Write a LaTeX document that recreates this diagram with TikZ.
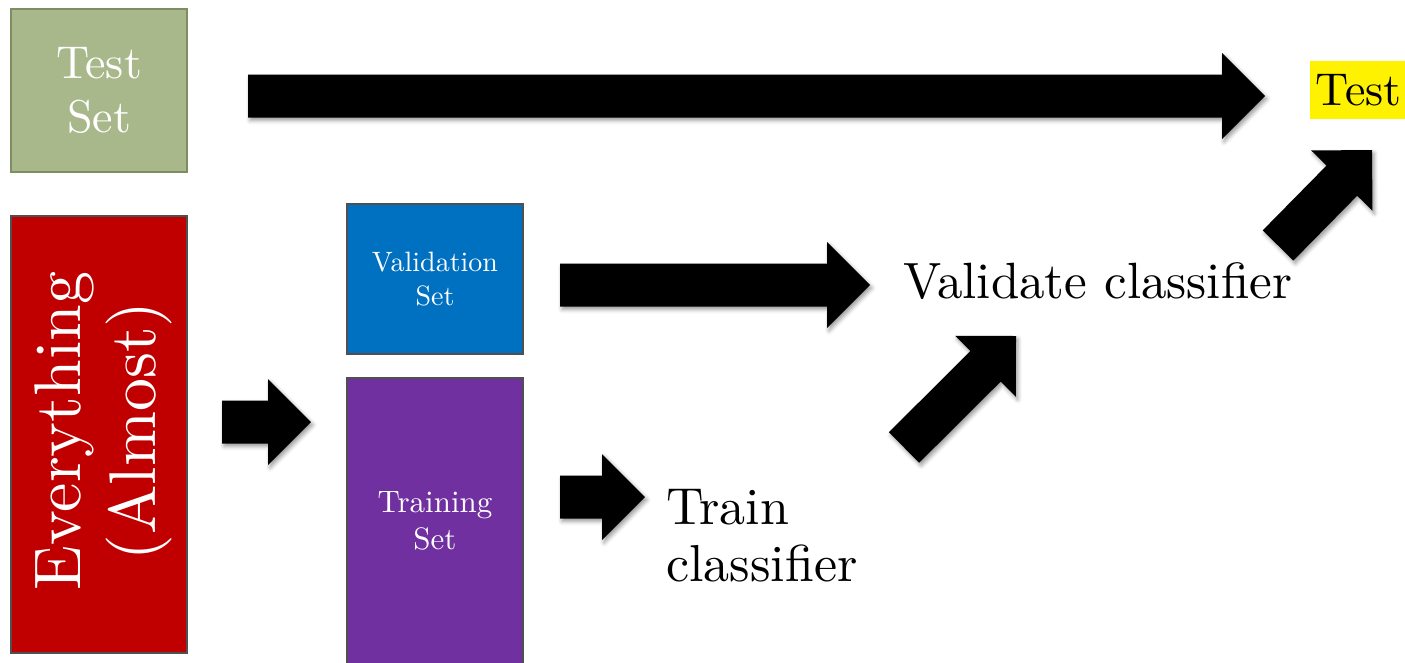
\documentclass[tikz,border=0pt]{standalone}
\usepackage{fontspec}
\setmainfont{lmroman10-regular}[Extension=.otf]
\usetikzlibrary{calc,shadows.blur}
\definecolor{testgreen}{HTML}{A9B88B}
\definecolor{testedge}{HTML}{7E8D62}
\definecolor{allred}{HTML}{C00000}
\definecolor{valblue}{HTML}{0070C0}
\definecolor{trainpurple}{HTML}{7030A0}
\definecolor{boxedge}{HTML}{505050}
\newcommand\blockarrow[2]{%
  \path ($(#2)!43pt!(#1)$) coordinate (#2-hb);
  \fill[arrowfill] ($(#1)!21.5pt!90:(#2)$) -- ($(#2-hb)!21.5pt!90:(#2)$) -- ($(#2-hb)!43pt!90:(#2)$) -- (#2) -- ($(#2-hb)!43pt!-90:(#2)$) -- ($(#2-hb)!21.5pt!-90:(#2)$) -- ($(#1)!21.5pt!-90:(#2)$) -- cycle;}
\begin{document}
\begin{tikzpicture}[x=1pt,y=-1pt,
  databox/.style={draw=#1, line width=2pt, inner sep=0pt, minimum width=176pt},
  settext/.style={text=white, align=center, inner sep=0pt},
  arrowfill/.style={fill=black, blur shadow={shadow xshift=2pt, shadow yshift=-3pt, shadow blur radius=4pt, shadow opacity=40}},
  plaintext/.style={inner sep=0pt, text=black}]
\useasboundingbox (0,0) rectangle (1405,662);

% boxes
\node[databox=testedge, fill=testgreen, minimum height=163pt, settext, font=\fontsize{46}{54}\selectfont] (testset) at (99,90.5) {Test\\Set};
\node[databox=boxedge, fill=allred, minimum height=437pt] (everything) at (99,434.5) {};
\node[settext, rotate=90, font=\fontsize{66}{75}\selectfont] (everytxt) at (103,431) {Everything\\(Almost)};
\node[databox=boxedge, fill=valblue, minimum height=150pt, settext, font=\fontsize{28}{34}\selectfont] (valset) at (435,279) {Validation\\Set};
\node[databox=boxedge, fill=trainpurple, minimum height=286pt, settext, font=\fontsize{31}{37}\selectfont] (trainset) at (435,521) {Training\\Set};

% labels
\node[plaintext, anchor=base west, font=\fontsize{51}{60}\selectfont] (validate) at (903,298) {Validate classifier};
\node[plaintext, anchor=north west, align=left, font=\fontsize{52}{57}\selectfont] (train) at (666,489) {Train\\classifier};
\node[fill=yellow, inner xsep=2pt, inner ysep=0pt, minimum height=58pt, minimum width=97pt, anchor=west, font=\fontsize{46}{54}\selectfont] (test) at (1310,90) {Test};

% arrows
\coordinate (a1s) at (248,96);   \coordinate (a1e) at (1265,96);
\coordinate (a2s) at (222,422);  \coordinate (a2e) at (311,422);
\coordinate (a3s) at (560,285);  \coordinate (a3e) at (870,285);
\coordinate (a4s) at (560,497);  \coordinate (a4e) at (645,497);
\coordinate (a5s) at (904,447.5);\coordinate (a5e) at (1016,336);
\coordinate (a6s) at (1278,245.5);\coordinate (a6e) at (1372,150);
\blockarrow{a1s}{a1e}
\blockarrow{a2s}{a2e}
\blockarrow{a3s}{a3e}
\blockarrow{a4s}{a4e}
\blockarrow{a5s}{a5e}
\blockarrow{a6s}{a6e}
\end{tikzpicture}
\end{document}
